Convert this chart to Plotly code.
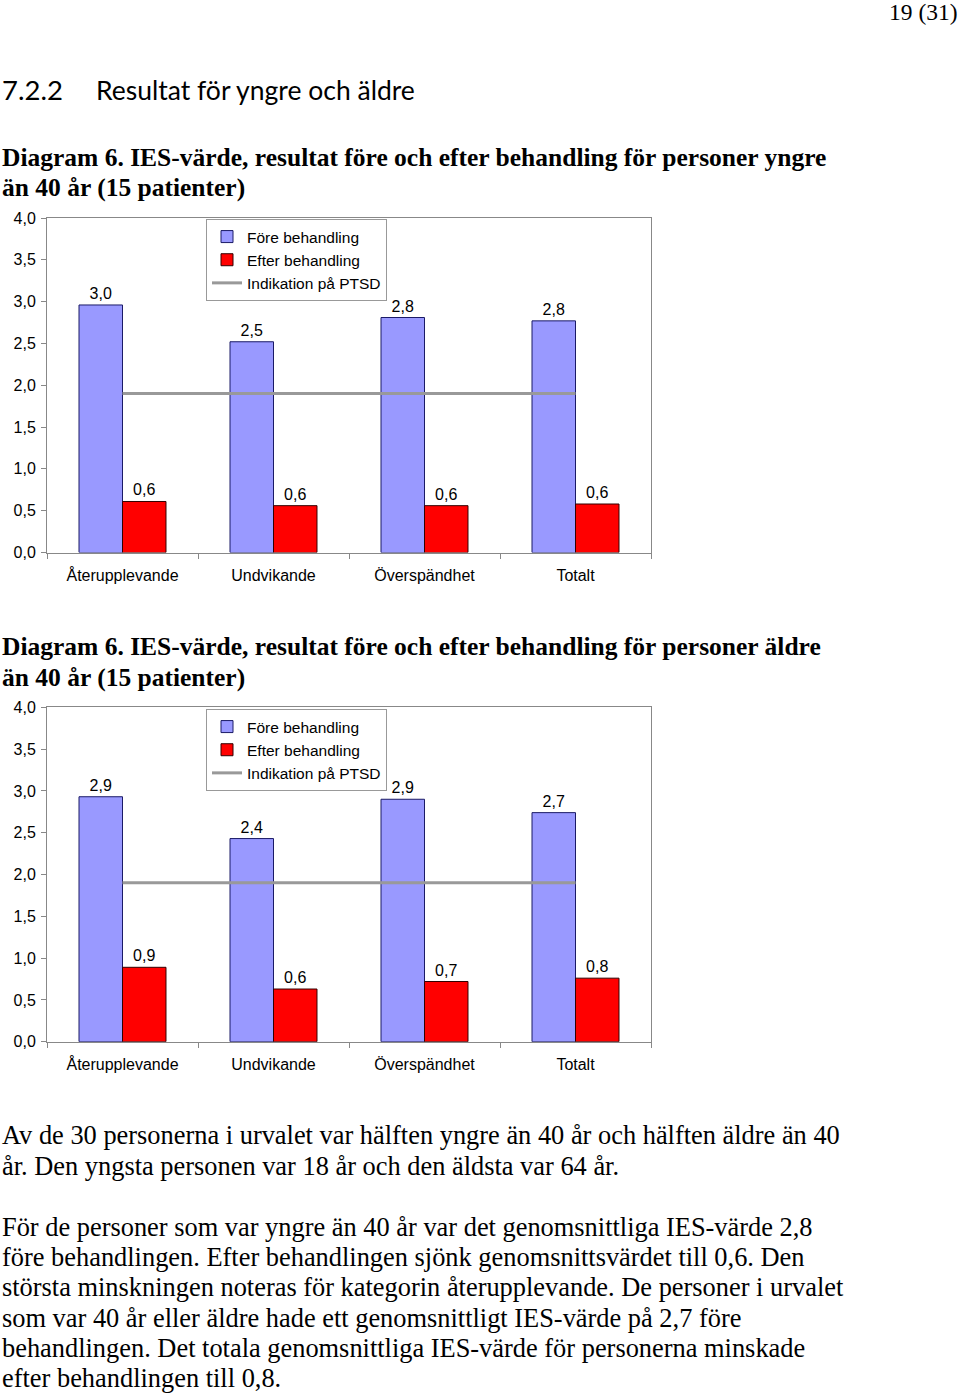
import plotly.graph_objects as go

W, H = 960, 1396

categories = ["Återupplevande", "Undvikande", "Överspändhet", "Totalt"]
fore_young = [2.96, 2.52, 2.81, 2.77]
efter_young = [0.61, 0.56, 0.56, 0.58]
fore_old = [2.93, 2.43, 2.90, 2.74]
efter_old = [0.89, 0.63, 0.72, 0.76]
ptsd_young = [1.9, 1.9, 1.9, 1.9]
ptsd_old = [1.9, 1.9, 1.9, 1.9]
y_ticks = [0.0, 0.5, 1.0, 1.5, 2.0, 2.5, 3.0, 3.5, 4.0]

page_no = "19 (31)"
section_no = "7.2.2"
section_title = "Resultat för yngre och äldre"
caption1 = ["Diagram 6. IES-värde, resultat före och efter behandling för personer yngre",
            "än 40 år (15 patienter)"]
caption2 = ["Diagram 6. IES-värde, resultat före och efter behandling för personer äldre",
            "än 40 år (15 patienter)"]
paragraph1 = ["Av de 30 personerna i urvalet var hälften yngre än 40 år och hälften äldre än 40",
              "år. Den yngsta personen var 18 år och den äldsta var 64 år."]
paragraph2 = ["För de personer som var yngre än 40 år var det genomsnittliga IES-värde 2,8",
              "före behandlingen. Efter behandlingen sjönk genomsnittsvärdet till 0,6. Den",
              "största minskningen noteras för kategorin återupplevande. De personer i urvalet",
              "som var 40 år eller äldre hade ett genomsnittligt IES-värde på 2,7 före",
              "behandlingen. Det totala genomsnittliga IES-värde för personerna minskade",
              "efter behandlingen till 0,8."]

SANS = "Liberation Sans"
SERIF = "Liberation Serif"
BLUE = "#9999FF"
RED = "#FF0000"
GRAY = "#999999"


def px(x):
    return x / W


def py(y):
    return 1 - y / H


fig = go.Figure()


def add_chart(fore, efter, ptsd, xa, ya, legend):
    fig.add_trace(go.Bar(
        x=categories, y=fore, name="Före behandling", xaxis=xa, yaxis=ya,
        marker=dict(color=BLUE, line=dict(color="#1a1a66", width=1)),
        texttemplate="%{y:.1f}", textposition="outside", cliponaxis=False,
        textfont=dict(family=SANS, size=16, color="black"), legend=legend))
    fig.add_trace(go.Bar(
        x=categories, y=efter, name="Efter behandling", xaxis=xa, yaxis=ya,
        marker=dict(color=RED, line=dict(color="#330000", width=1)),
        texttemplate="%{y:.1f}", textposition="outside", cliponaxis=False,
        textfont=dict(family=SANS, size=16, color="black"), legend=legend))
    fig.add_trace(go.Scatter(
        x=categories, y=ptsd, name="Indikation på PTSD", xaxis=xa, yaxis=ya,
        mode="lines", line=dict(color=GRAY, width=3), legend=legend))


add_chart(fore_young, efter_young, ptsd_young, "x", "y", "legend")
add_chart(fore_old, efter_old, ptsd_old, "x2", "y2", "legend2")

xax = dict(type="category", categoryorder="array", categoryarray=categories,
           showline=True, linecolor="#888888", linewidth=1, mirror=True,
           ticks="outside", ticklen=5, tickcolor="#888888", tickson="boundaries",
           ticklabelstandoff=8, tickfont=dict(family=SANS, size=16, color="black"),
           showgrid=False, zeroline=False, fixedrange=True, automargin=False)
yax = dict(range=[0, 4], tickvals=y_ticks, tickformat=".1f",
           showline=True, linecolor="#888888", linewidth=1, mirror=True,
           ticks="outside", ticklen=5, tickcolor="#888888", ticklabelstandoff=2,
           tickfont=dict(family=SANS, size=16, color="black"),
           showgrid=False, zeroline=False, fixedrange=True, automargin=False)

leg = dict(xref="paper", yref="paper", xanchor="left", yanchor="top",
           bgcolor="white", bordercolor="#999999", borderwidth=1,
           font=dict(family=SANS, size=15.5, color="black"),
           tracegroupgap=0, itemwidth=30)

annotations = []


def text(x, y, s, size, family, bold=False, anchor="left"):
    annotations.append(dict(
        x=px(x), y=py(y), xref="paper", yref="paper", xanchor=anchor, yanchor="middle",
        text=("<b>%s</b>" % s) if bold else s, showarrow=False,
        font=dict(family=family, size=size, color="black")))


text(960, 12, page_no, 23.5, SERIF, anchor="right")
text(0, 90, section_no, 27.5, "Lato")
text(94, 90, section_title, 26.5, "Lato")
for i, s in enumerate(caption1):
    text(0, 157 + 31 * i, s, 25.5, SERIF, bold=True)
for i, s in enumerate(caption2):
    text(0, 646 + 31 * i, s, 25.5, SERIF, bold=True)
for i, s in enumerate(paragraph1):
    text(0, 1135 + 31 * i, s, 26.4, SERIF)
for i, s in enumerate(paragraph2):
    text(0, 1227 + 30.2 * i, s, 26.4, SERIF)

fig.update_layout(
    width=W, height=H, margin=dict(l=0, r=0, t=0, b=0, pad=0, autoexpand=False),
    paper_bgcolor="white", plot_bgcolor="white",
    separators=", ", barmode="group", bargap=0.424, bargroupgap=0,
    xaxis=dict(xax, domain=[px(47), px(651)], anchor="y"),
    yaxis=dict(yax, domain=[py(552.5), py(218)], anchor="x"),
    xaxis2=dict(xax, domain=[px(47), px(651)], anchor="y2"),
    yaxis2=dict(yax, domain=[py(1041.7), py(707.3)], anchor="x2"),
    legend=dict(leg, x=px(206), y=py(219)),
    legend2=dict(leg, x=px(206), y=py(709)),
    annotations=annotations,
    showlegend=True,
)

fig.write_html("out.html", post_script="document.body.style.margin='0';")
